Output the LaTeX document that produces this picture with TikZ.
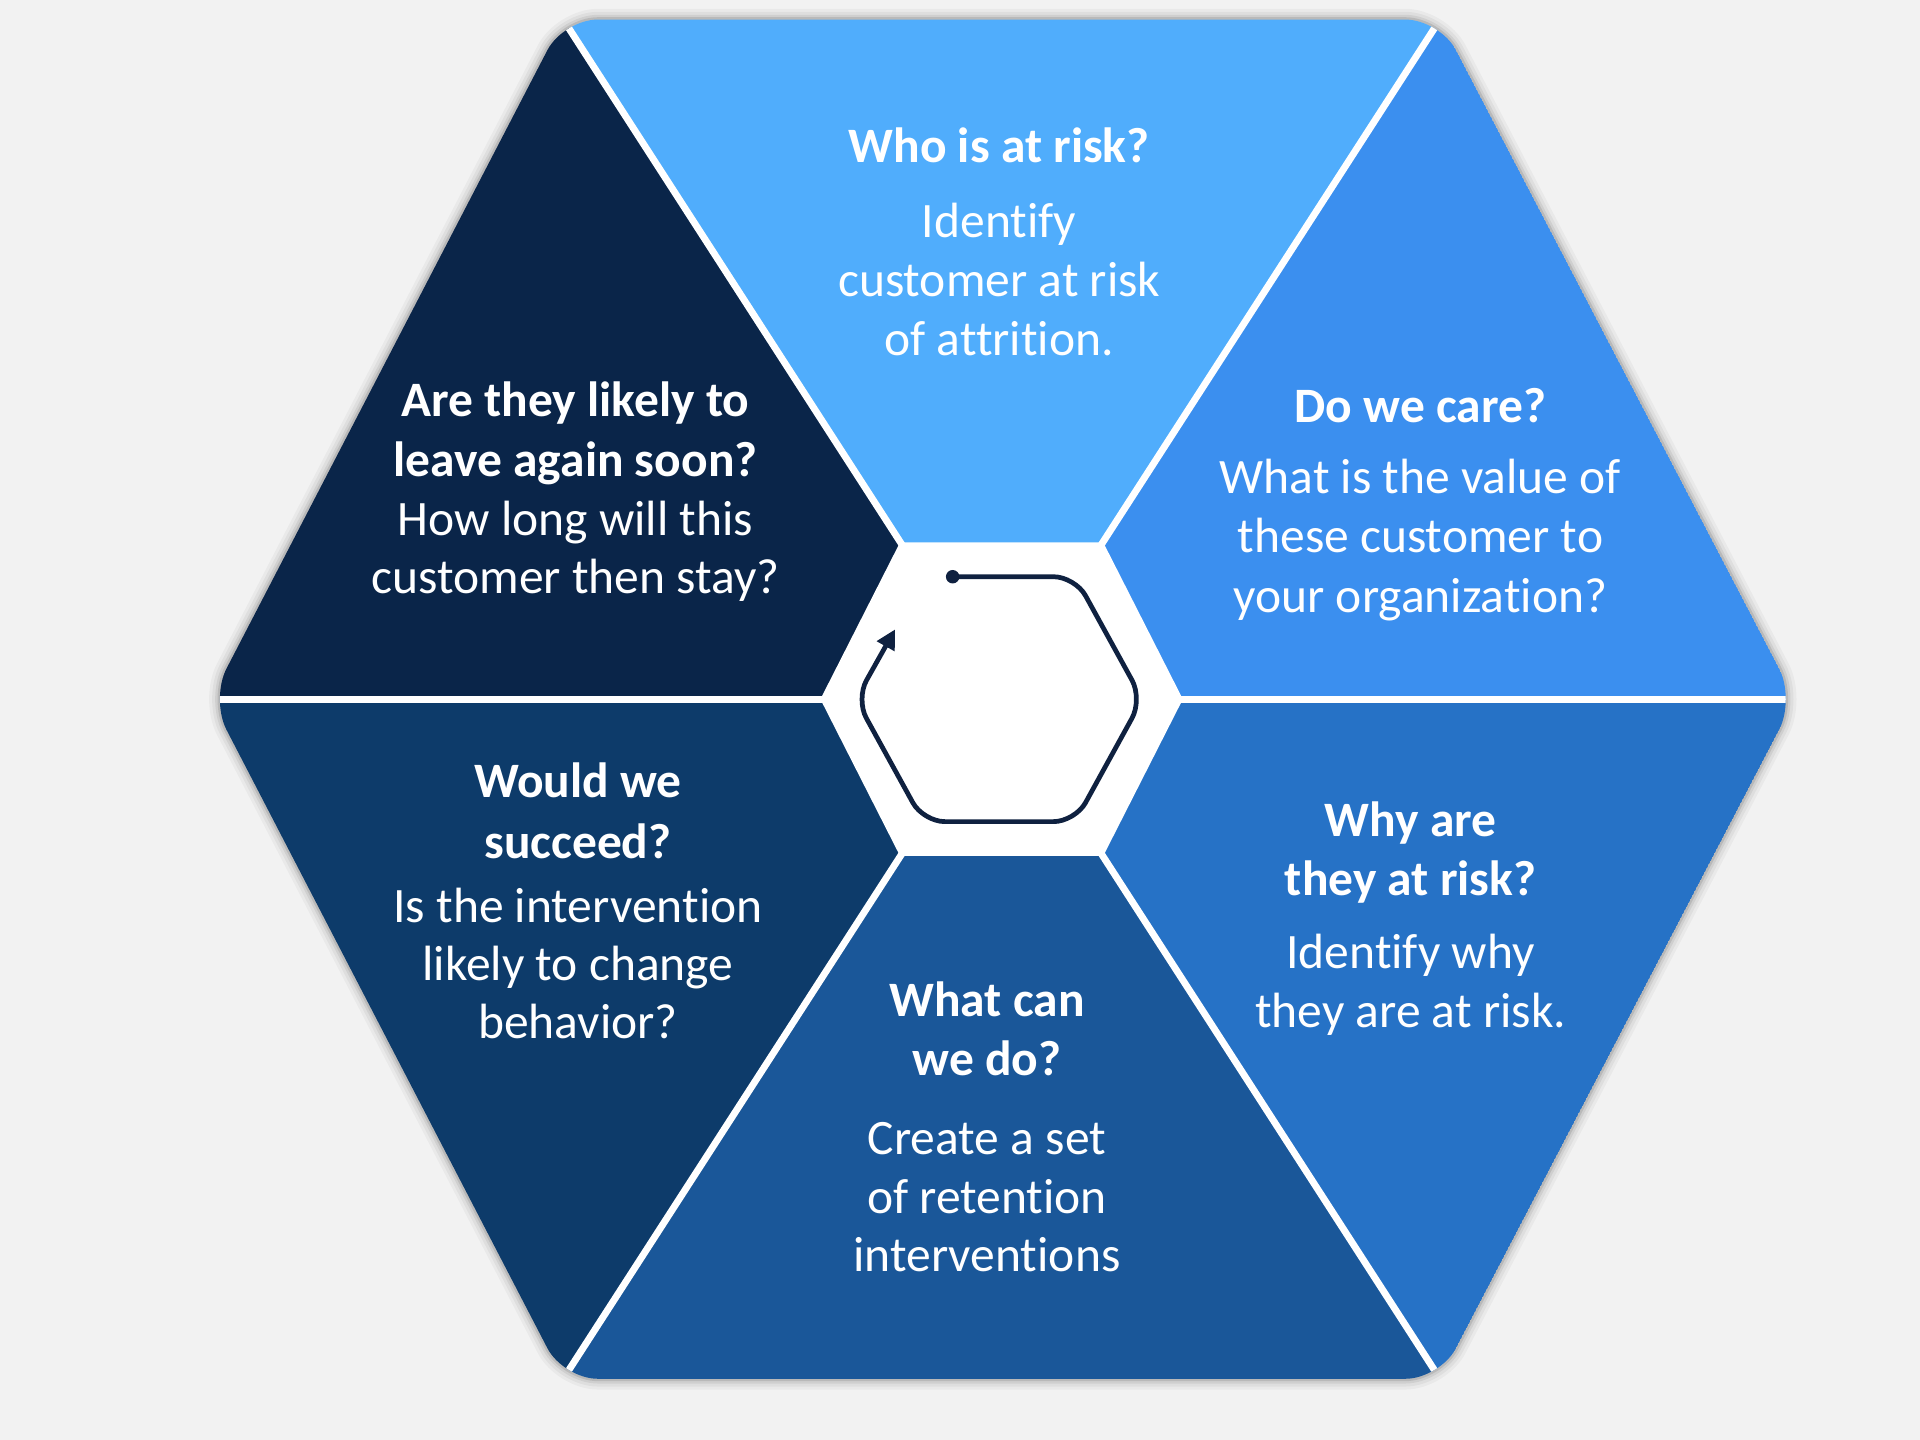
\documentclass[tikz,border=0pt]{standalone}
\usepackage{fontspec}
\setmainfont{Carlito}[Ligatures=NoCommon]
\usetikzlibrary{arrows.meta}
\definecolor{bg}{HTML}{F2F2F2}
\definecolor{ctop}{HTML}{50ADFC}
\definecolor{ctr}{HTML}{3B8FEF}
\definecolor{cbr}{HTML}{2672C6}
\definecolor{cbot}{HTML}{1A5799}
\definecolor{cbl}{HTML}{0D3B6A}
\definecolor{ctl}{HTML}{0A2549}
\definecolor{icon}{HTML}{0F2140}
\tikzset{
  ttl/.style={font=\fontsize{11.5}{13.7}\selectfont\bfseries, text=white, anchor=base, inner sep=0pt},
  bdy/.style={font=\fontsize{11.5}{13.7}\selectfont, text=white, anchor=base, inner sep=0pt},
  gapline/.style={white, line width=1.6pt},
}
\begin{document}
\begin{tikzpicture}[x=0.01cm,y=-0.01cm]
\fill[bg] (0,0) rectangle (1568,1176);
\useasboundingbox (0,0) rectangle (1568,1176);
\coordinate (C) at (818,571);
\coordinate (TL) at (460,16);
\coordinate (TR) at (1176,16);
\coordinate (R) at (1466,571);
\coordinate (BR) at (1176,1126);
\coordinate (BL) at (460,1126);
\coordinate (L) at (172,571);
% soft shadow
\foreach \w/\o in {5pt/0.035,3.6pt/0.045,2.2pt/0.065,1.1pt/0.1}
  \draw[line width=\w, black, opacity=\o, line join=round, rounded corners=8] (TL)--(TR)--(R)--(BR)--(BL)--(L)--cycle;
% segments
\begin{scope}
\clip[rounded corners=8] (TL)--(TR)--(R)--(BR)--(BL)--(L)--cycle;
\fill[ctop] (C)--(TL)--(TR)--cycle;
\fill[ctr] (C)--(TR)--(R)--cycle;
\fill[cbr] (C)--(R)--(BR)--cycle;
\fill[cbot] (C)--(BR)--(BL)--cycle;
\fill[cbl] (C)--(BL)--(L)--cycle;
\fill[ctl] (C)--(L)--(TL)--cycle;
\foreach \v in {TL,TR,R,BR,BL,L} \draw[gapline] (C)--(\v);
\end{scope}
% inner white hexagon
\fill[white] (735,443)--(901,443)--(966,571)--(901,699)--(735,699)--(670,571)--cycle;
% icon
\coordinate (i0) at (778,471);
\coordinate (i1) at (878,471);
\coordinate (i2) at (933,571);
\coordinate (i3) at (878,671);
\coordinate (i4) at (754,671);
\coordinate (i5) at (699,571);
\coordinate (i6) at (731,514);
\fill[icon] (i0) circle[radius=5.5];
\draw[icon, line width=1.1pt, rounded corners=5, -{Triangle[length=4.5pt,width=4.5pt]}]
  (i0)--(i1)--(i2)--(i3)--(i4)--(i5)--(i6);
% texts: top
\node[ttl] (a1) at (816,133) {Who is at risk?};
\node[bdy] (a2) at (816,194) {Identify};
\node[bdy] (a3) at (816,242) {customer at risk};
\node[bdy] (a4) at (816,290) {of attrition.};
% top right
\node[ttl] (b1) at (1160,345) {Do we care?};
\node[bdy] (b2) at (1160,403) {What is the value of};
\node[bdy] (b3) at (1160,451) {these customer to};
\node[bdy] (b4) at (1160,500) {your organization?};
% bottom right
\node[ttl] (c1) at (1152,683) {Why are};
\node[ttl] (c2) at (1152,731) {they at risk?};
\node[bdy] (c3) at (1152,791) {Identify why};
\node[bdy] (c4) at (1152,839) {they are at risk.};
% bottom
\node[ttl] (d1) at (806,830) {What can};
\node[ttl] (d2) at (806,878) {we do?};
\node[bdy] (d3) at (806,943) {Create a set};
\node[bdy] (d4) at (806,991) {of retention};
\node[bdy] (d5) at (806,1038) {interventions};
% bottom left
\node[ttl] (e1) at (472,651) {Would we};
\node[ttl] (e2) at (472,701) {succeed?};
\node[bdy] (e3) at (472,753) {Is the intervention};
\node[bdy] (e4) at (472,801) {likely to change};
\node[bdy] (e5) at (472,848) {behavior?};
% top left
\node[ttl] (f1) at (470,340) {Are they likely to};
\node[ttl] (f2) at (470,389) {leave again soon?};
\node[bdy] (f3) at (470,437) {How long will this};
\node[bdy] (f4) at (470,485) {customer then stay?};
\end{tikzpicture}
\end{document}
